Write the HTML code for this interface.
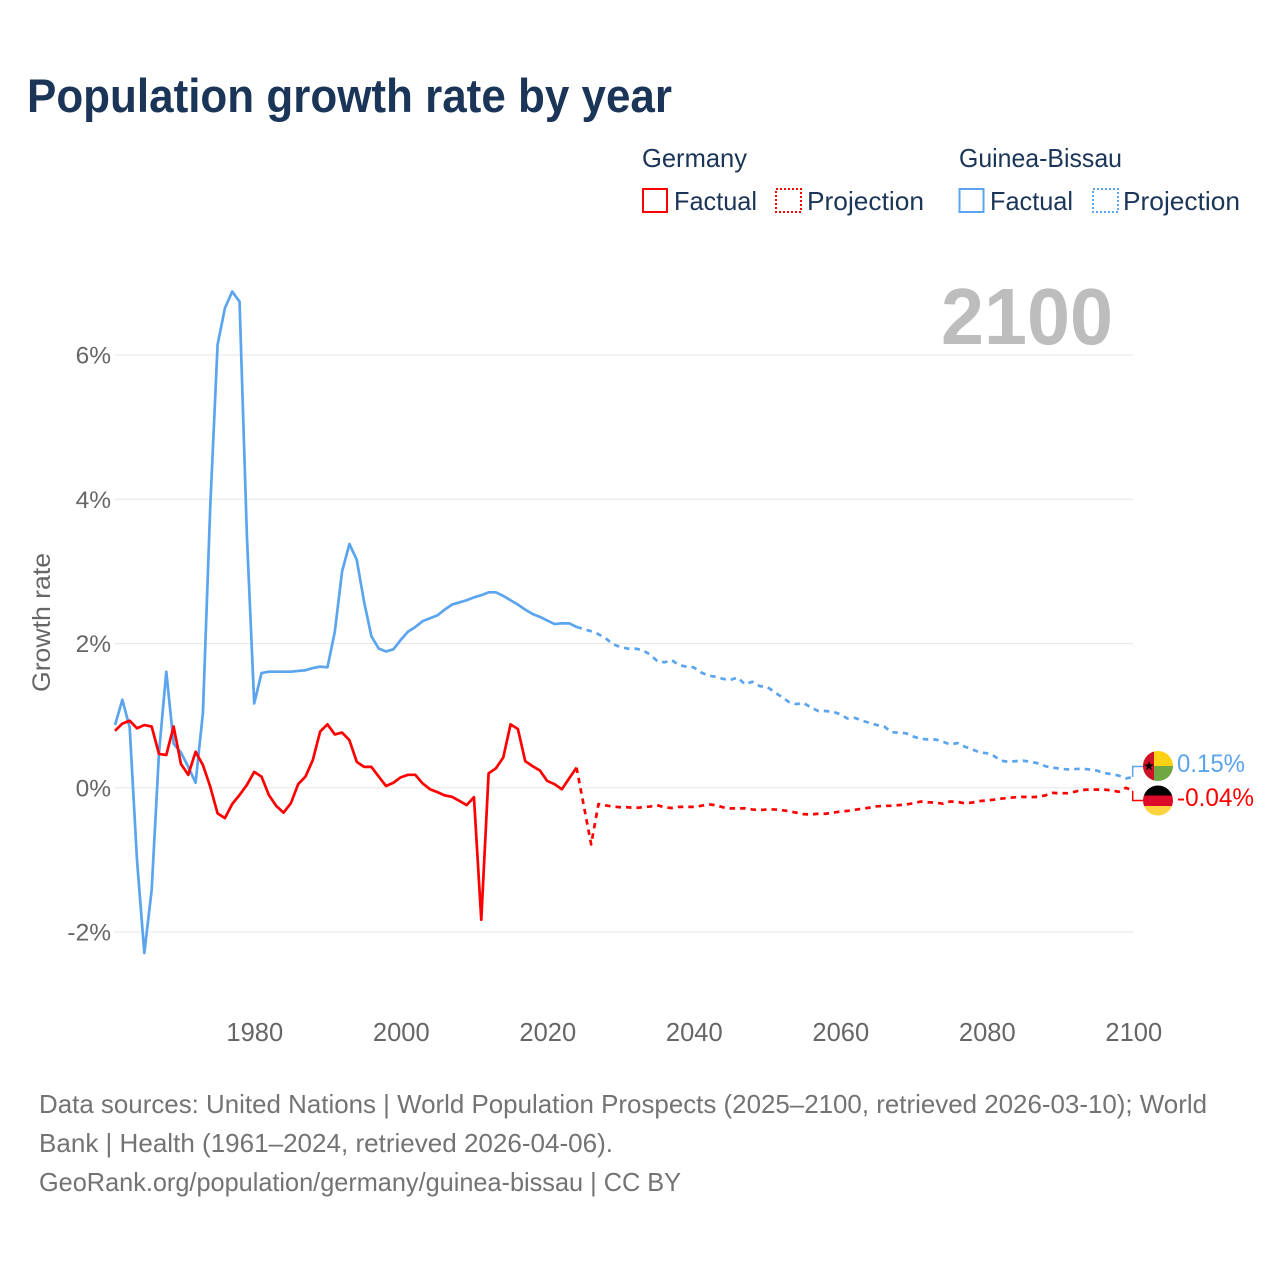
<!DOCTYPE html>
<html lang="en">
<head>
<meta charset="utf-8">
<title>Population growth rate by year</title>
<style>
html,body{margin:0;padding:0;background:#fff;}
svg{display:block;font-family:"Liberation Sans",sans-serif;}
</style>
</head>
<body>
<svg id="chart" xmlns="http://www.w3.org/2000/svg" width="1280" height="1280" viewBox="0 0 1280 1280">
  <defs>
    <clipPath id="clip-gw"><circle cx="1158" cy="766" r="15"/></clipPath>
    <clipPath id="clip-de"><circle cx="1158" cy="800.5" r="15"/></clipPath>
  </defs>
  <rect x="0" y="0" width="1280" height="1280" fill="#ffffff"/>
  <text x="27" y="112" font-size="47" font-weight="700" fill="#1a3557" textLength="645" lengthAdjust="spacingAndGlyphs">Population growth rate by year</text>

  <g font-size="26" fill="#1a3557">
    <text x="642" y="167" textLength="105" lengthAdjust="spacingAndGlyphs">Germany</text>
    <text x="959" y="167" textLength="163" lengthAdjust="spacingAndGlyphs">Guinea-Bissau</text>
    <rect x="643" y="189" width="24" height="23" fill="none" stroke="#ff0000" stroke-width="2"/>
    <text x="674" y="210" textLength="83" lengthAdjust="spacingAndGlyphs">Factual</text>
    <rect x="776" y="189" width="25" height="23" fill="none" stroke="#ff0000" stroke-width="2" stroke-dasharray="2 2"/>
    <text x="807" y="210" textLength="117" lengthAdjust="spacingAndGlyphs">Projection</text>
    <rect x="959.5" y="189" width="24" height="23" fill="none" stroke="#5ba4ee" stroke-width="2"/>
    <text x="990" y="210" textLength="83" lengthAdjust="spacingAndGlyphs">Factual</text>
    <rect x="1093" y="189" width="25" height="23" fill="none" stroke="#5ba4ee" stroke-width="2" stroke-dasharray="2 2"/>
    <text x="1123" y="210" textLength="117" lengthAdjust="spacingAndGlyphs">Projection</text>
  </g>

  <g id="grid"></g>
  <g id="y-ticks"></g>
  <g id="x-ticks"></g>
  <text transform="translate(50,692) rotate(-90)" font-size="25" fill="#666666" textLength="139" lengthAdjust="spacingAndGlyphs">Growth rate</text>
  <text x="941" y="344" font-size="80" font-weight="700" fill="#bdbdbd" textLength="172" lengthAdjust="spacingAndGlyphs">2100</text>

  <g id="series"></g>

  <g clip-path="url(#clip-gw)">
    <rect x="1143" y="751" width="30" height="15" fill="#fcd116"/>
    <rect x="1143" y="766" width="30" height="15" fill="#6fa843"/>
    <rect x="1143" y="751" width="11" height="30" fill="#ce1126"/>
    <polygon points="1149,761 1150.2,764.4 1153.8,764.5 1150.9,766.7 1152,770.2 1149,768.1 1146,770.2 1147.1,766.7 1144.2,764.5 1147.8,764.4" fill="#000000"/>
  </g>
  <g clip-path="url(#clip-de)">
    <rect x="1143" y="785" width="30" height="11" fill="#000000"/>
    <rect x="1143" y="795.5" width="30" height="10.5" fill="#dd0a2a"/>
    <rect x="1143" y="806" width="30" height="10" fill="#ffd23f"/>
  </g>
  <text x="1177" y="772" font-size="25" fill="#5ba4ee" textLength="68" lengthAdjust="spacingAndGlyphs">0.15%</text>
  <text x="1177" y="806" font-size="25" fill="#ff0000" textLength="77" lengthAdjust="spacingAndGlyphs">-0.04%</text>

  <g font-size="26" fill="#737373">
    <text x="39" y="1113" textLength="1168" lengthAdjust="spacingAndGlyphs">Data sources: United Nations | World Population Prospects (2025–2100, retrieved 2026-03-10); World</text>
    <text x="39" y="1152" textLength="574" lengthAdjust="spacingAndGlyphs">Bank | Health (1961–2024, retrieved 2026-04-06).</text>
    <text x="39" y="1191" textLength="642" lengthAdjust="spacingAndGlyphs">GeoRank.org/population/germany/guinea-bissau | CC BY</text>
  </g>
</svg>
<script>
const yTickValues = [6, 4, 2, 0, -2];
const yTickLabels = ['6%', '4%', '2%', '0%', '-2%'];
const xTickYears = [1980, 2000, 2020, 2040, 2060, 2080, 2100];
const xTickLabels = ['1980', '2000', '2020', '2040', '2060', '2080', '2100'];
const factualStartYear = 1961;
const projectionStartYear = 2025;

const germanyFactual = [
  0.79, 0.89, 0.93, 0.825, 0.87, 0.85, 0.47, 0.455, 0.85, 0.33,
  0.18, 0.50, 0.315, 0.015, -0.355, -0.42, -0.225, -0.10, 0.04, 0.22,
  0.155, -0.10, -0.25, -0.345, -0.215, 0.05, 0.155, 0.385, 0.78, 0.88,
  0.74, 0.765, 0.66, 0.36, 0.29, 0.29, 0.155, 0.025, 0.07, 0.145,
  0.18, 0.18, 0.06, -0.02, -0.06, -0.105, -0.125, -0.18, -0.24, -0.13,
  -1.83, 0.20, 0.27, 0.42, 0.88, 0.815, 0.37, 0.30, 0.24, 0.095,
  0.05, -0.02, 0.13, 0.28
];
const germanyProjection = [
  -0.25, -0.785, -0.225, -0.245, -0.26, -0.27,
  -0.27, -0.28, -0.27, -0.26, -0.24, -0.27, -0.28, -0.265, -0.265, -0.265,
  -0.25, -0.23, -0.24, -0.27, -0.285, -0.285, -0.285, -0.30, -0.31, -0.30,
  -0.30, -0.31, -0.325, -0.345, -0.365, -0.37, -0.36, -0.36, -0.345, -0.33,
  -0.32, -0.305, -0.29, -0.275, -0.257, -0.25, -0.25, -0.24, -0.23, -0.215,
  -0.19, -0.20, -0.205, -0.22, -0.19, -0.195, -0.215, -0.205, -0.185, -0.175,
  -0.165, -0.15, -0.14, -0.13, -0.125, -0.13, -0.125, -0.105, -0.07, -0.075,
  -0.075, -0.055, -0.03, -0.025, -0.025, -0.025, -0.035, -0.055, 0.0, -0.04
];
const guineaBissauFactual = [
  0.87, 1.22, 0.84, -1.0, -2.29, -1.42, 0.48, 1.61, 0.61, 0.49,
  0.29, 0.07, 1.04, 3.9, 6.14, 6.65, 6.88, 6.74, 3.5, 1.17,
  1.59, 1.61, 1.61, 1.61, 1.61, 1.62, 1.63, 1.66, 1.68, 1.67,
  2.16, 3.0, 3.38, 3.16, 2.58, 2.10, 1.93, 1.89, 1.92, 2.05,
  2.165, 2.23, 2.31, 2.35, 2.39, 2.47, 2.54, 2.57, 2.60, 2.64,
  2.67, 2.71, 2.71, 2.66, 2.60, 2.54, 2.47, 2.41, 2.37, 2.32,
  2.27, 2.28, 2.28, 2.23
];
const guineaBissauProjection = [
  2.20, 2.17, 2.13, 2.07, 1.99, 1.95,
  1.93, 1.93, 1.91, 1.85, 1.76, 1.74, 1.77, 1.70, 1.68, 1.67,
  1.60, 1.555, 1.54, 1.51, 1.495, 1.53, 1.435, 1.47, 1.41, 1.40,
  1.33, 1.26, 1.19, 1.16, 1.175, 1.115, 1.065, 1.065, 1.055, 1.02,
  0.96, 0.97, 0.93, 0.90, 0.87, 0.85, 0.77, 0.765, 0.755, 0.71,
  0.68, 0.67, 0.67, 0.64, 0.60, 0.62, 0.57, 0.535, 0.49, 0.48,
  0.44, 0.375, 0.36, 0.37, 0.375, 0.36, 0.34, 0.30, 0.28, 0.265,
  0.255, 0.26, 0.265, 0.255, 0.24, 0.205, 0.19, 0.17, 0.13, 0.15
];

const SVG_NS = 'http://www.w3.org/2000/svg';
function xScale(year) { return 254.2 + (year - 1980) * (1133.2 - 254.2) / 120; }
function yScale(value) { return 787.8 - value * 72.13; }

function linePath(startYear, values, prefixYear, prefixValue) {
  let d = '';
  if (prefixYear !== null) {
    d += 'M' + xScale(prefixYear).toFixed(2) + ' ' + yScale(prefixValue).toFixed(2);
  }
  values.forEach(function (v, i) {
    const cmd = d === '' ? 'M' : 'L';
    d += cmd + xScale(startYear + i).toFixed(2) + ' ' + yScale(v).toFixed(2);
  });
  return d;
}

const gridGroup = document.getElementById('grid');
const yTickGroup = document.getElementById('y-ticks');
yTickValues.forEach(function (v, i) {
  const line = document.createElementNS(SVG_NS, 'line');
  
  
  line.setAttribute('x1', xScale(factualStartYear) - 0.5);
  line.setAttribute('x2', xScale(2100));
  line.setAttribute('y1', yScale(v));
  line.setAttribute('y2', yScale(v));
  line.setAttribute('stroke', '#e9e9e9');
  line.setAttribute('stroke-width', '1.2');
  gridGroup.appendChild(line);

  const label = document.createElementNS(SVG_NS, 'text');
  
  
  label.setAttribute('x', 111);
  label.setAttribute('y', yScale(v) + 8.5);
  label.setAttribute('text-anchor', 'end');
  label.setAttribute('font-size', '24.5');
  label.setAttribute('fill', '#666666');
  label.textContent = yTickLabels[i];
  yTickGroup.appendChild(label);
});

const xTickGroup = document.getElementById('x-ticks');
xTickYears.forEach(function (year, i) {
  const label = document.createElementNS(SVG_NS, 'text');
  
  
  label.setAttribute('x', xScale(year) + 0.6);
  label.setAttribute('y', 1041);
  label.setAttribute('text-anchor', 'middle');
  label.setAttribute('font-size', '25.5');
  label.setAttribute('fill', '#666666');
  label.textContent = xTickLabels[i];
  xTickGroup.appendChild(label);
});

const seriesGroup = document.getElementById('series');
function addLine(name, d, color, dash) {
  const p = document.createElementNS(SVG_NS, 'path');
  
  
  p.setAttribute('d', d);
  p.setAttribute('fill', 'none');
  p.setAttribute('stroke', color);
  p.setAttribute('stroke-width', '2.7');
  p.setAttribute('stroke-linejoin', 'round');
  if (dash) { p.setAttribute('stroke-dasharray', dash); }
  seriesGroup.appendChild(p);
}
const BLUE = '#5ba4ee';
const RED = '#ff0000';
const lastYear = projectionStartYear - 1;
addLine('guinea-bissau-factual-line', linePath(factualStartYear, guineaBissauFactual, null, 0), BLUE, null);
addLine('guinea-bissau-projection-line', linePath(projectionStartYear, guineaBissauProjection, lastYear, guineaBissauFactual[guineaBissauFactual.length - 1]), BLUE, '5.5 5');
addLine('germany-factual-line', linePath(factualStartYear, germanyFactual, null, 0), RED, null);
addLine('germany-projection-line', linePath(projectionStartYear, germanyProjection, lastYear, germanyFactual[germanyFactual.length - 1]), RED, '5.5 5');

function addConnector(name, endValue, labelY, color) {
  const p = document.createElementNS(SVG_NS, 'path');
  
  
  p.setAttribute('d', 'M' + (xScale(2100) - 0.5) + ' ' + yScale(endValue).toFixed(2) + 'V' + labelY + 'H1143');
  p.setAttribute('fill', 'none');
  p.setAttribute('stroke', color);
  p.setAttribute('stroke-width', '1.5');
  seriesGroup.appendChild(p);
}
addConnector('guinea-bissau-label-connector', guineaBissauProjection[guineaBissauProjection.length - 1], 766.5, BLUE);
addConnector('germany-label-connector', germanyProjection[germanyProjection.length - 1], 800.5, RED);
</script>
</body>
</html>
